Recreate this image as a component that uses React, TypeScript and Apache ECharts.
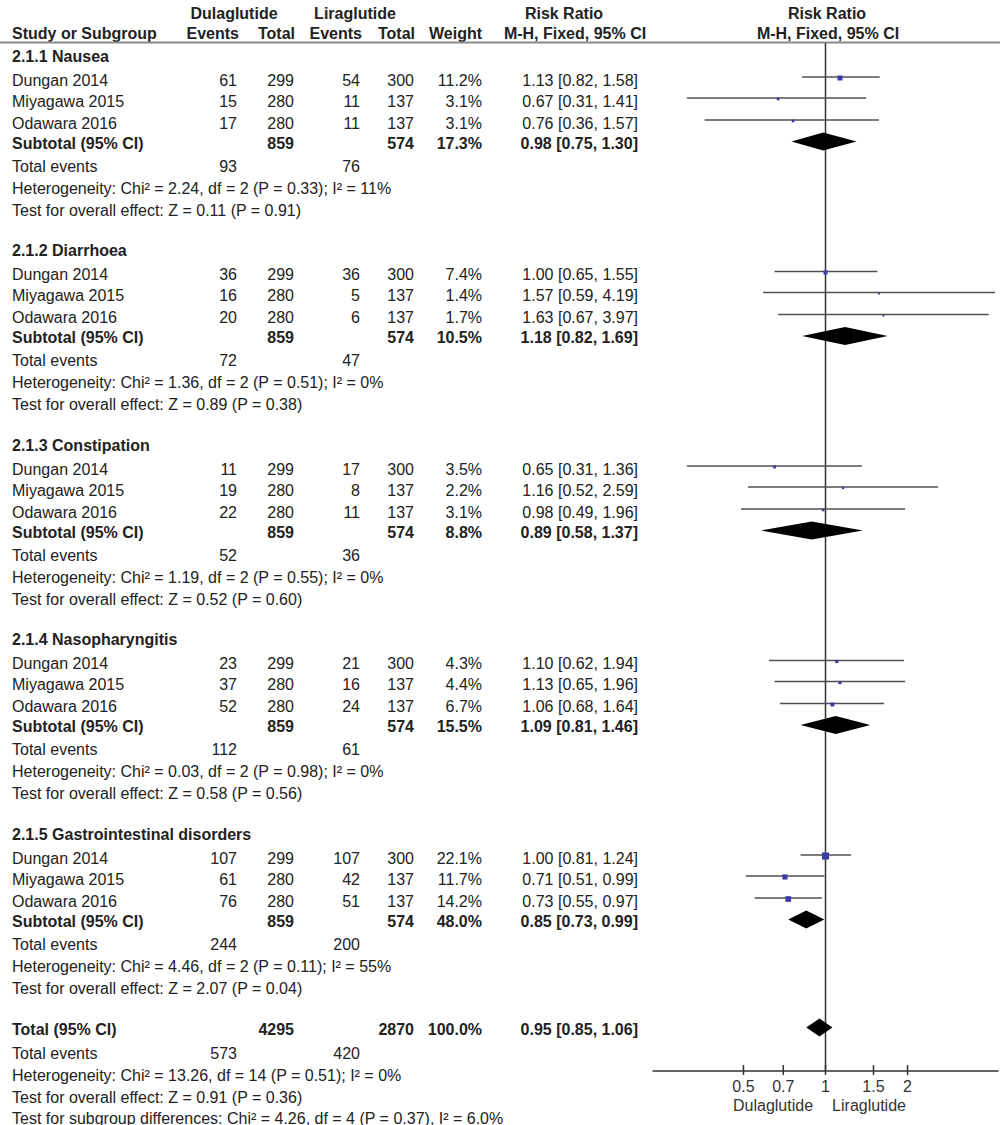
import React, { useEffect, useRef } from "react";
import * as echarts from "echarts";

// ---------- data ----------
const groupNames = [
  "2.1.1 Nausea",
  "2.1.2 Diarrhoea",
  "2.1.3 Constipation",
  "2.1.4 Nasopharyngitis",
  "2.1.5 Gastrointestinal disorders",
];
const studyNames = ["Dungan 2014", "Miyagawa 2015", "Odawara 2016"];
const dulTotals = [299, 280, 280];
const liraTotals = [300, 137, 137];

const dulEvents = [
  [61, 15, 17],
  [36, 16, 20],
  [11, 19, 22],
  [23, 37, 52],
  [107, 61, 76],
];
const liraEvents = [
  [54, 11, 11],
  [36, 5, 6],
  [17, 8, 11],
  [21, 16, 24],
  [107, 42, 51],
];
const studyWeights = [
  [11.2, 3.1, 3.1],
  [7.4, 1.4, 1.7],
  [3.5, 2.2, 3.1],
  [4.3, 4.4, 6.7],
  [22.1, 11.7, 14.2],
];
const studyRR = [
  [1.13, 0.67, 0.76],
  [1.0, 1.57, 1.63],
  [0.65, 1.16, 0.98],
  [1.1, 1.13, 1.06],
  [1.0, 0.71, 0.73],
];
const studyLo = [
  [0.82, 0.31, 0.36],
  [0.65, 0.59, 0.67],
  [0.31, 0.52, 0.49],
  [0.62, 0.65, 0.68],
  [0.81, 0.51, 0.55],
];
const studyHi = [
  [1.58, 1.41, 1.57],
  [1.55, 4.19, 3.97],
  [1.36, 2.59, 1.96],
  [1.94, 1.96, 1.64],
  [1.24, 0.99, 0.97],
];

const subDulTotal = [859, 859, 859, 859, 859];
const subLiraTotal = [574, 574, 574, 574, 574];
const subWeight = [17.3, 10.5, 8.8, 15.5, 48.0];
const subRR = [0.98, 1.18, 0.89, 1.09, 0.85];
const subLo = [0.75, 0.82, 0.58, 0.81, 0.73];
const subHi = [1.3, 1.69, 1.37, 1.46, 0.99];
const subEventsDul = [93, 72, 52, 112, 244];
const subEventsLira = [76, 47, 36, 61, 200];
const hetChi = [2.24, 1.36, 1.19, 0.03, 4.46];
const hetDf = [2, 2, 2, 2, 2];
const hetP = [0.33, 0.51, 0.55, 0.98, 0.11];
const hetI2 = ["11", "0", "0", "0", "55"];
const effZ = [0.11, 0.89, 0.52, 0.58, 2.07];
const effP = [0.91, 0.38, 0.6, 0.56, 0.04];

const totalDul = 4295;
const totalLira = 2870;
const totalWeight = 100.0;
const totalRR = [0.95, 0.85, 1.06];
const totalEvents = [573, 420];
const totalHet = { chi: 13.26, df: 14, p: 0.51, i2: "0" };
const totalEff = { z: 0.91, p: 0.36 };
const subgroupDiff = { chi: 4.26, df: 4, p: 0.37, i2: "6.0" };

const axisTicks = [0.5, 0.7, 1, 1.5, 2];
const axisMin = 0.2328;
const axisMax = 4.295;

// ---------- layout ----------
const W = 1000;
const H = 1125;
const FONT = "'Liberation Sans', Arial, Helvetica, sans-serif";
const TXT = "#222";
const L = {
  groupTop: 56,
  groupStep: 194.5,
  studyOff: [24, 45, 67],
  subOff: 87,
  evOff: 110,
  hetOff: 132,
  testOff: 154,
  totalY: 1029,
  totalEvY: 1053,
  totalHetY: 1075,
  totalTestY: 1097,
  subgroupY: 1118,
  plotTop: 43,
  plotBottom: 1071,
  plotLeft: 653,
  plotRight: 998,
};
const C = { label: 12, dulEv: 237, dulTot: 294, liraEv: 360, liraTot: 414, weight: 482, rr: 638 };

const f2 = (v: number) => v.toFixed(2);
const ciText = (r: number, lo: number, hi: number) => `${f2(r)} [${f2(lo)}, ${f2(hi)}]`;

function txt(text: string, x: number, y: number, align = "left", bold = false, size = 16, color = TXT) {
  return {
    type: "text",
    x,
    y,
    silent: true,
    style: {
      text,
      fill: color,
      fontSize: size,
      fontWeight: bold ? "bold" : "normal",
      fontFamily: FONT,
      align,
      verticalAlign: "middle",
      textAlign: align,
      textVerticalAlign: "middle",
    },
  };
}

export default function App() {
  const ref = useRef<HTMLDivElement>(null);

  useEffect(() => {
    document.body.style.margin = "0";
    if (!ref.current) return;
    const chart = echarts.init(ref.current, null, { renderer: "svg" });

    const texts: any[] = [];
    // headers
    texts.push(txt("Dulaglutide", 234, 13, "center", true));
    texts.push(txt("Liraglutide", 355, 13, "center", true));
    texts.push(txt("Risk Ratio", 564, 13, "center", true));
    texts.push(txt("Risk Ratio", 827, 13, "center", true));
    texts.push(txt("Study or Subgroup", C.label, 33, "left", true));
    texts.push(txt("Events", 239, 33, "right", true));
    texts.push(txt("Total", 295, 33, "right", true));
    texts.push(txt("Events", 362, 33, "right", true));
    texts.push(txt("Total", 415, 33, "right", true));
    texts.push(txt("Weight", 482, 33, "right", true));
    texts.push(txt("M-H, Fixed, 95% CI", 575, 33, "center", true));
    texts.push(txt("M-H, Fixed, 95% CI", 828, 33, "center", true));

    const ciData: any[] = [];
    const diamondData: any[] = [];

    groupNames.forEach((g, gi) => {
      const y0 = L.groupTop + gi * L.groupStep;
      texts.push(txt(g, C.label, y0, "left", true));
      studyNames.forEach((s, si) => {
        const y = y0 + L.studyOff[si];
        texts.push(txt(s, C.label, y));
        texts.push(txt(String(dulEvents[gi][si]), C.dulEv, y, "right"));
        texts.push(txt(String(dulTotals[si]), C.dulTot, y, "right"));
        texts.push(txt(String(liraEvents[gi][si]), C.liraEv, y, "right"));
        texts.push(txt(String(liraTotals[si]), C.liraTot, y, "right"));
        texts.push(txt(studyWeights[gi][si].toFixed(1) + "%", C.weight, y, "right"));
        texts.push(txt(ciText(studyRR[gi][si], studyLo[gi][si], studyHi[gi][si]), C.rr, y, "right"));
        ciData.push([studyLo[gi][si], studyHi[gi][si], y, studyRR[gi][si], studyWeights[gi][si]]);
      });
      const ys = y0 + L.subOff;
      texts.push(txt("Subtotal (95% CI)", C.label, ys, "left", true));
      texts.push(txt(String(subDulTotal[gi]), C.dulTot, ys, "right", true));
      texts.push(txt(String(subLiraTotal[gi]), C.liraTot, ys, "right", true));
      texts.push(txt(subWeight[gi].toFixed(1) + "%", C.weight, ys, "right", true));
      texts.push(txt(ciText(subRR[gi], subLo[gi], subHi[gi]), C.rr, ys, "right", true));
      diamondData.push([subLo[gi], subHi[gi], ys, subRR[gi]]);
      const ye = y0 + L.evOff;
      texts.push(txt("Total events", C.label, ye));
      texts.push(txt(String(subEventsDul[gi]), C.dulEv, ye, "right"));
      texts.push(txt(String(subEventsLira[gi]), C.liraEv, ye, "right"));
      texts.push(
        txt(
          `Heterogeneity: Chi² = ${f2(hetChi[gi])}, df = ${hetDf[gi]} (P = ${f2(hetP[gi])}); I² = ${hetI2[gi]}%`,
          C.label,
          y0 + L.hetOff
        )
      );
      texts.push(txt(`Test for overall effect: Z = ${f2(effZ[gi])} (P = ${f2(effP[gi])})`, C.label, y0 + L.testOff));
    });

    // overall
    texts.push(txt("Total (95% CI)", C.label, L.totalY, "left", true));
    texts.push(txt(String(totalDul), C.dulTot, L.totalY, "right", true));
    texts.push(txt(String(totalLira), C.liraTot, L.totalY, "right", true));
    texts.push(txt(totalWeight.toFixed(1) + "%", C.weight, L.totalY, "right", true));
    texts.push(txt(ciText(totalRR[0], totalRR[1], totalRR[2]), C.rr, L.totalY, "right", true));
    diamondData.push([totalRR[1], totalRR[2], L.totalY, totalRR[0]]);
    texts.push(txt("Total events", C.label, L.totalEvY));
    texts.push(txt(String(totalEvents[0]), C.dulEv, L.totalEvY, "right"));
    texts.push(txt(String(totalEvents[1]), C.liraEv, L.totalEvY, "right"));
    texts.push(
      txt(
        `Heterogeneity: Chi² = ${f2(totalHet.chi)}, df = ${totalHet.df} (P = ${f2(totalHet.p)}); I² = ${totalHet.i2}%`,
        C.label,
        L.totalHetY
      )
    );
    texts.push(txt(`Test for overall effect: Z = ${f2(totalEff.z)} (P = ${f2(totalEff.p)})`, C.label, L.totalTestY));
    texts.push(
      txt(
        `Test for subgroup differences: Chi² = ${f2(subgroupDiff.chi)}, df = ${subgroupDiff.df} (P = ${f2(
          subgroupDiff.p
        )}), I² = ${subgroupDiff.i2}%`,
        C.label,
        L.subgroupY
      )
    );
    // axis captions
    texts.push(txt("Dulaglutide", 773, 1105, "center", false, 16, "#333"));
    texts.push(txt("Liraglutide", 869, 1105, "center", false, 16, "#333"));

    // header rule
    texts.push({
      type: "line",
      silent: true,
      shape: { x1: 0, y1: 42.5, x2: W, y2: 42.5 },
      style: { stroke: "#8a8a8a", lineWidth: 2 },
    });

    const option: any = {
      animation: false,
      backgroundColor: "#fff",
      grid: {
        left: L.plotLeft,
        right: W - L.plotRight,
        top: L.plotTop,
        bottom: H - L.plotBottom,
        containLabel: false,
      },
      xAxis: {
        type: "log",
        logBase: 10,
        min: axisMin,
        max: axisMax,
        axisLine: { show: true, onZero: false, lineStyle: { color: "#333", width: 1.5 } },
        axisTick: { show: false },
        axisLabel: { show: false },
        splitLine: { show: false },
      },
      yAxis: {
        type: "value",
        inverse: true,
        min: L.plotTop,
        max: L.plotBottom,
        show: false,
      },
      graphic: { elements: texts },
      series: [
        {
          type: "line",
          data: [
            [1, L.plotTop],
            [1, L.plotBottom],
          ],
          symbol: "none",
          lineStyle: { color: "#333", width: 1.5 },
          silent: true,
          z: 2,
        },
        {
          type: "custom",
          data: ciData,
          encode: { x: [0, 1, 3], y: 2 },
          silent: true,
          z: 3,
          renderItem: (params: any, api: any) => {
            const y = api.value(2);
            const a = api.coord([api.value(0), y]);
            const b = api.coord([api.value(1), y]);
            const c = api.coord([api.value(3), y]);
            const s = Math.max(2, 1.5 * Math.sqrt(api.value(4)));
            return {
              type: "group",
              children: [
                {
                  type: "line",
                  shape: { x1: a[0], y1: a[1] - 3, x2: b[0], y2: b[1] - 3 },
                  style: { stroke: "#505050", lineWidth: 1.5 },
                },
                {
                  type: "rect",
                  shape: { x: c[0] - s / 2, y: c[1] - 2 - s / 2, width: s, height: s },
                  style: { fill: "#3a3aa6" },
                },
              ],
            };
          },
        },
        {
          type: "custom",
          data: diamondData,
          encode: { x: [0, 1, 3], y: 2 },
          silent: true,
          z: 4,
          renderItem: (params: any, api: any) => {
            const y = api.value(2);
            const a = api.coord([api.value(0), y]);
            const b = api.coord([api.value(1), y]);
            const c = api.coord([api.value(3), y]);
            const cy = c[1] - 1.5;
            const h = 9;
            return {
              type: "polygon",
              shape: {
                points: [
                  [a[0], cy],
                  [c[0], cy - h],
                  [b[0], cy],
                  [c[0], cy + h],
                ],
              },
              style: { fill: "#000" },
            };
          },
        },
        {
          type: "custom",
          data: axisTicks.map((t) => [t, L.plotBottom]),
          encode: { x: 0, y: 1 },
          silent: true,
          clip: false,
          z: 5,
          renderItem: (params: any, api: any) => {
            const p = api.coord([api.value(0), api.value(1)]);
            return {
              type: "group",
              children: [
                {
                  type: "line",
                  shape: { x1: p[0], y1: p[1] - 6, x2: p[0], y2: p[1] + 4 },
                  style: { stroke: "#333", lineWidth: 1.5 },
                },
                {
                  type: "text",
                  x: p[0],
                  y: p[1] + 15,
                  style: {
                    text: String(api.value(0)),
                    fill: "#333",
                    fontSize: 16,
                    fontFamily: FONT,
                    align: "center",
                    verticalAlign: "middle",
                  },
                },
              ],
            };
          },
        },
      ],
    };
    chart.setOption(option);
    return () => chart.dispose();
  }, []);

  return <div ref={ref} style={{ width: W, height: H }} />;
}
